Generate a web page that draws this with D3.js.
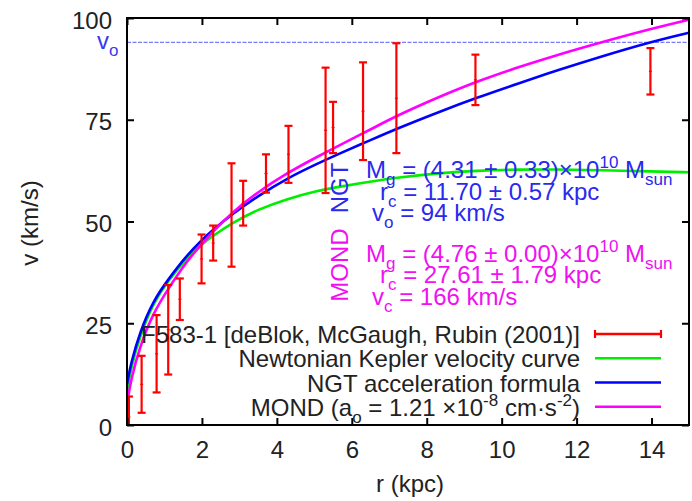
<!DOCTYPE html>
<html>
<head>
<meta charset="utf-8">
<script src="https://cdn.jsdelivr.net/npm/d3@7"></script>
<style>
  html, body { margin: 0; padding: 0; background: #fff; }
  svg { display: block; }
  text { font-family: "Liberation Sans", Arial, Helvetica, sans-serif; }
</style>
</head>
<body>
<script>
// ---- data ----
const rData  = [0.05, 0.39, 0.79, 1.1, 1.41, 1.99, 2.3, 2.79, 3.1, 3.71, 4.31, 5.3, 5.5, 6.3, 7.19, 9.3, 13.97];
const vData  = [2, 10, 17.5, 23.4, 30.9, 40.8, 44.7, 51.6, 54.5, 61.8, 66.5, 72.4, 73.1, 77.1, 80.3, 84.8, 86.9];
const dvData = [5, 7, 9.5, 11, 5.1, 6, 4.3, 12.7, 5.5, 4.7, 7, 15.4, 6.3, 12, 13.5, 6.2, 5.7];

const rCurve     = [0, 0.1, 0.35, 0.7, 1.1, 1.6, 2.0, 2.3, 2.8, 3.5, 4.25, 5.1, 5.7, 6.5, 7.2, 8.35, 9.3, 10.5, 11.5, 12.6, 14, 15];
const vNewton    = [8, 14, 22, 30, 35.5, 41, 44.5, 46.5, 49.6, 53, 55.5, 57.6, 58.6, 59.8, 60.8, 61.9, 62.5, 62.8, 62.8, 62.6, 62.3, 62.1];
const vNGT       = [10, 15, 23, 30.5, 35.8, 41.7, 45.5, 48.0, 51.8, 56.3, 60.5, 64.3, 66.8, 70.0, 72.8, 77.0, 80.3, 84.1, 87.2, 90.4, 94.2, 96.4];
const vMOND      = [5, 11, 19.5, 27.5, 33.5, 40.3, 44.5, 47.6, 52.2, 57.3, 61.8, 66.0, 68.9, 72.6, 76.0, 80.7, 84.3, 88.1, 91.0, 93.9, 97.4, 99.6];
const vO = 94;

const xTicks = [0, 2, 4, 6, 8, 10, 12, 14];
const yTicks = [0, 25, 50, 75, 100];

// ---- layout ----
const W = 692, H = 501;
const L = 127, R = 689, T = 18, B = 425;
const FS = 24;

const svg = d3.select("body").append("svg").attr("width", W).attr("height", H);

const x = d3.scaleLinear().domain([0, 15]).range([L, R]);
const y = d3.scaleLinear().domain([0, 100]).range([B, T]);

svg.append("clipPath").attr("id", "clip")
  .append("rect").attr("x", L).attr("y", T).attr("width", R - L).attr("height", B - T);

const plot = svg.append("g").attr("clip-path", "url(#clip)");

// v_o dashed line
plot.append("line")
  .attr("x1", x(0)).attr("x2", x(15)).attr("y1", y(vO)).attr("y2", y(vO))
  .attr("stroke", "#7a7aff").attr("stroke-width", 1.2).attr("stroke-dasharray", "4,1.5");

// curves
const line = d3.line().x((d, i) => x(rCurve[i])).y(d => y(d)).curve(d3.curveBasis);
plot.append("path").datum(vNewton).attr("d", line).attr("fill", "none").attr("stroke", "#00ee00").attr("stroke-width", 2.6);
plot.append("path").datum(vNGT).attr("d", line).attr("fill", "none").attr("stroke", "#0000ff").attr("stroke-width", 2.6);
plot.append("path").datum(vMOND).attr("d", line).attr("fill", "none").attr("stroke", "#ff00ff").attr("stroke-width", 2.6);

// error bars
const eb = plot.append("g").attr("stroke", "#ff0000").attr("stroke-width", 2.2).attr("fill", "none");
rData.forEach((r, i) => {
  const cx = x(r), lo = y(vData[i] - dvData[i]), hi = y(vData[i] + dvData[i]);
  eb.append("line").attr("x1", cx).attr("x2", cx).attr("y1", lo).attr("y2", hi);
  eb.append("line").attr("x1", cx - 4).attr("x2", cx + 4).attr("y1", lo).attr("y2", lo);
  eb.append("line").attr("x1", cx - 4).attr("x2", cx + 4).attr("y1", hi).attr("y2", hi);
  eb.append("line").attr("x1", cx - 1.5).attr("x2", cx + 1.5).attr("y1", y(vData[i])).attr("y2", y(vData[i])).attr("stroke-width", 1.2);
});

// axes (inward ticks on all sides)
const axStyle = g => {
  g.select(".domain").remove();
  g.selectAll(".tick line").attr("stroke", "#000").attr("stroke-width", 2);
  g.selectAll("text").attr("font-size", FS).attr("fill", "#222")
    .style("font-family", '"Liberation Sans", Arial, Helvetica, sans-serif');
};
svg.append("g").attr("transform", `translate(0,${B})`)
  .call(d3.axisBottom(x).tickValues(xTicks).tickSizeInner(-7).tickSizeOuter(0).tickPadding(16).tickFormat(d3.format("d")))
  .call(axStyle);
svg.append("g").attr("transform", `translate(0,${T})`)
  .call(d3.axisTop(x).tickValues(xTicks).tickSizeInner(-7).tickSizeOuter(0).tickFormat(""))
  .call(axStyle);
svg.append("g").attr("transform", `translate(${L},0)`)
  .call(d3.axisLeft(y).tickValues(yTicks).tickSizeInner(-7).tickSizeOuter(0).tickPadding(15).tickFormat(d3.format("d")))
  .call(axStyle)
  .selectAll("text").attr("dy", "0.42em");
svg.append("g").attr("transform", `translate(${R},0)`)
  .call(d3.axisRight(y).tickValues(yTicks).tickSizeInner(-7).tickSizeOuter(0).tickFormat(""))
  .call(axStyle);

// frame
svg.append("rect").attr("x", L).attr("y", T).attr("width", R - L).attr("height", B - T)
  .attr("fill", "none").attr("stroke", "#000").attr("stroke-width", 2);

// axis titles
svg.append("text").attr("x", (L + R) / 2 + 2).attr("y", 492).attr("text-anchor", "middle")
  .attr("font-size", FS).attr("fill", "#222").text("r (kpc)");
svg.append("text").attr("transform", "translate(38,223) rotate(-90)").attr("text-anchor", "middle")
  .attr("font-size", FS).attr("fill", "#222").text("v (km/s)");

// rich text helper: segments [text, mode] mode: n | sub | sup
function rich(g, xx, yy, segs, opts) {
  const t = g.append("text").attr("x", xx).attr("y", yy).attr("font-size", FS)
    .attr("fill", opts.color).attr("text-anchor", opts.anchor || "start");
  let cur = 0;
  segs.forEach(([s, m]) => {
    const target = m === "sub" ? 7 : m === "sup" ? -10 : 0;
    t.append("tspan").attr("dy", target - cur)
      .attr("font-size", m === "n" ? FS : 17).text(s);
    cur = target;
  });
  return t;
}

// v_o label
rich(svg, 97, 49, [["v", "n"], ["o", "sub"]], { color: "#3a3aee" });

// NGT block
const blue = "#2a2aee", mag = "#f010f0";
svg.append("text").attr("transform", "translate(348,188) rotate(-90)").attr("text-anchor", "middle")
  .attr("font-size", FS).attr("fill", blue).text("NGT");
rich(svg, 366, 178, [["M", "n"], ["g", "sub"], [" = (4.31 ± 0.33)×10", "n"], ["10", "sup"], [" M", "n"], ["sun", "sub"]], { color: blue });
rich(svg, 380, 200, [["r", "n"], ["c", "sub"], [" = 11.70 ± 0.57 kpc", "n"]], { color: blue });
rich(svg, 372, 221, [["v", "n"], ["o", "sub"], [" = 94 km/s", "n"]], { color: blue });

// MOND block
svg.append("text").attr("transform", "translate(348,265) rotate(-90)").attr("text-anchor", "middle")
  .attr("font-size", FS).attr("fill", mag).text("MOND");
rich(svg, 366, 262, [["M", "n"], ["g", "sub"], [" = (4.76 ± 0.00)×10", "n"], ["10", "sup"], [" M", "n"], ["sun", "sub"]], { color: mag });
rich(svg, 380, 283, [["r", "n"], ["c", "sub"], [" = 27.61 ± 1.79 kpc", "n"]], { color: mag });
rich(svg, 372, 305, [["v", "n"], ["c", "sub"], [" = 166 km/s", "n"]], { color: mag });

// legend
const legY = [334, 358.3, 382.5, 406.7];
const legColors = ["#ff0000", "#00ee00", "#0000ff", "#ff00ff"];
const lx1 = 595, lx2 = 661, tx = 580;
legY.forEach((ly, i) => {
  svg.append("line").attr("x1", lx1).attr("x2", lx2).attr("y1", ly).attr("y2", ly)
    .attr("stroke", legColors[i]).attr("stroke-width", 2.4);
});
svg.append("line").attr("x1", lx1).attr("x2", lx1).attr("y1", legY[0] - 4).attr("y2", legY[0] + 4).attr("stroke", "#ff0000").attr("stroke-width", 2.2);
svg.append("line").attr("x1", lx2).attr("x2", lx2).attr("y1", legY[0] - 4).attr("y2", legY[0] + 4).attr("stroke", "#ff0000").attr("stroke-width", 2.2);

const legText = ["F583-1 [deBlok, McGaugh, Rubin (2001)]", "Newtonian Kepler velocity curve", "NGT acceleration formula"];
legText.forEach((s, i) => {
  svg.append("text").attr("x", tx).attr("y", legY[i] + 9).attr("text-anchor", "end")
    .attr("font-size", FS).attr("fill", "#222").text(s);
});
rich(svg, tx, legY[3] + 9, [["MOND (a", "n"], ["o", "sub"], ["  = 1.21 ×10", "n"], ["-8", "sup"], [" cm·s", "n"], ["-2", "sup"], [")", "n"]], { color: "#222", anchor: "end" });
</script>
</body>
</html>
